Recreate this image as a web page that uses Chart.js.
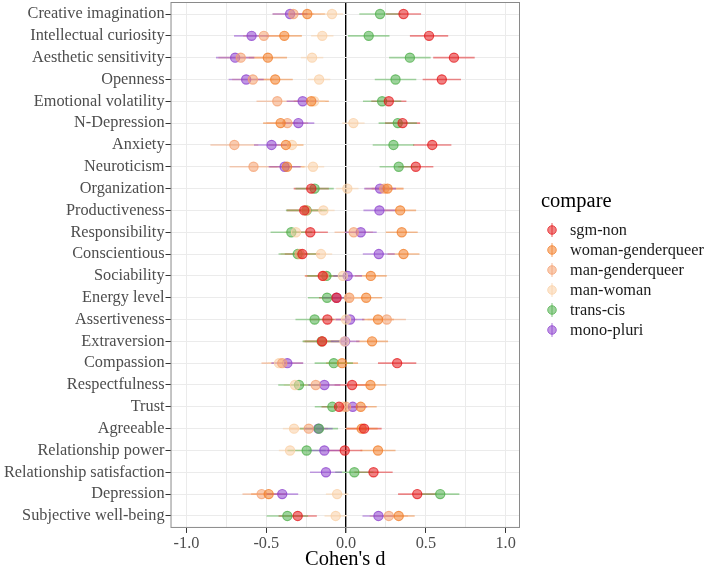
<!DOCTYPE html>
<html>
<head>
<meta charset="utf-8">
<script src="https://cdn.jsdelivr.net/npm/chart.js@4.4.1/dist/chart.umd.min.js"></script>
<style>
  html, body { margin: 0; padding: 0; background: #fff; }
  #wrap { position: relative; width: 709px; height: 567px; }
  #legend { position: absolute; left: 541px; top: 186px; font-family: 'Liberation Serif', serif; color: #1a1a1a; }
  #legend .title { font-size: 20.5px; line-height: 28px; color: #000; margin-bottom: 6px; }
  #legend .item { position: relative; height: 20px; line-height: 20px; font-size: 16.3px; padding-left: 29px; white-space: nowrap; }
  #legend svg { position: absolute; left: 3px; top: 0; }
</style>
</head>
<body>
<div id="wrap"><canvas id="c"></canvas><div id="legend"></div></div>
<script>
const categories = [
  "Creative imagination", "Intellectual curiosity", "Aesthetic sensitivity", "Openness",
  "Emotional volatility", "N-Depression", "Anxiety", "Neuroticism",
  "Organization", "Productiveness", "Responsibility", "Conscientious",
  "Sociability", "Energy level", "Assertiveness", "Extraversion",
  "Compassion", "Respectfulness", "Trust", "Agreeable",
  "Relationship power", "Relationship satisfaction", "Depression", "Subjective well-being"
];
const seriesNames = ["sgm-non", "woman-genderqueer", "man-genderqueer", "man-woman", "trans-cis", "mono-pluri"];
const seriesColors = ["228,26,28", "242,125,40", "244,160,112", "250,208,166", "77,175,74", "140,64,205"];

const sgmNon =          [0.36, 0.52, 0.676, 0.60, 0.268, 0.354, 0.54, 0.437, -0.218, -0.262, -0.224, -0.274, -0.146, -0.06, -0.117, -0.15, 0.32, 0.038, -0.044, 0.113, -0.008, 0.172, 0.446, -0.303];
const womanGenderqueer = [-0.243, -0.387, -0.49, -0.444, -0.218, -0.41, -0.377, -0.37, 0.26, 0.339, 0.349, 0.36, 0.155, 0.126, 0.20, 0.163, -0.025, 0.153, 0.092, 0.098, 0.20, null, -0.485, 0.33];
const manGenderqueer =  [-0.33, -0.515, -0.66, -0.584, -0.431, -0.368, -0.70, -0.58, 0.24, -0.25, 0.048, -0.29, -0.14, 0.02, 0.255, -0.15, -0.40, -0.19, 0.0, -0.234, null, null, -0.529, 0.268];
const manWoman =        [-0.088, -0.149, -0.213, -0.169, -0.2, 0.046, -0.339, -0.207, 0.008, -0.142, -0.314, -0.157, -0.02, 0.02, 0.0, -0.01, -0.42, -0.32, -0.02, -0.326, -0.351, null, -0.056, -0.065];
const transCis =        [0.213, 0.142, 0.40, 0.31, 0.226, 0.324, 0.297, 0.33, -0.197, -0.247, -0.343, -0.303, -0.123, -0.119, -0.197, -0.153, -0.077, -0.295, -0.086, -0.17, -0.247, 0.052, 0.59, -0.368];
const monoPluri =       [-0.351, -0.592, -0.695, -0.626, -0.272, -0.299, -0.467, -0.385, 0.213, 0.209, 0.092, 0.205, 0.01, -0.059, 0.025, -0.006, -0.368, -0.136, 0.042, -0.174, -0.136, -0.126, -0.40, 0.203];

// half-widths of the 95% intervals
const sgmNonCI =          [0.11, 0.12, 0.13, 0.12, 0.11, 0.11, 0.12, 0.11, 0.11, 0.11, 0.11, 0.11, 0.11, 0.11, 0.11, 0.11, 0.12, 0.11, 0.11, 0.11, 0.11, 0.12, 0.12, 0.12];
const womanGenderqueerCI = [0.11, 0.11, 0.12, 0.11, 0.11, 0.11, 0.11, 0.11, 0.10, 0.10, 0.10, 0.10, 0.10, 0.10, 0.10, 0.10, 0.10, 0.10, 0.10, 0.10, 0.11, null, 0.11, 0.10];
const manGenderqueerCI =  [0.13, 0.13, 0.14, 0.13, 0.13, 0.13, 0.15, 0.15, 0.12, 0.12, 0.12, 0.12, 0.12, 0.12, 0.12, 0.12, 0.13, 0.12, 0.12, 0.12, null, null, 0.12, 0.12];
const manWomanCI =        [0.07, 0.07, 0.07, 0.07, 0.07, 0.07, 0.07, 0.07, 0.07, 0.07, 0.07, 0.07, 0.07, 0.07, 0.07, 0.07, 0.07, 0.07, 0.07, 0.07, 0.07, null, 0.07, 0.07];
const transCisCI =        [0.13, 0.13, 0.13, 0.13, 0.12, 0.12, 0.13, 0.12, 0.12, 0.13, 0.13, 0.12, 0.12, 0.12, 0.12, 0.12, 0.12, 0.13, 0.11, 0.12, 0.12, 0.12, 0.12, 0.13];
const monoPluriCI =       [0.11, 0.11, 0.12, 0.11, 0.10, 0.10, 0.11, 0.10, 0.10, 0.10, 0.10, 0.10, 0.09, 0.09, 0.09, 0.09, 0.10, 0.10, 0.09, 0.09, 0.10, 0.10, 0.10, 0.10];

const xTicks = [-1.0, -0.75, -0.5, -0.25, 0, 0.25, 0.5, 0.75, 1.0];

const seriesValues = [sgmNon, womanGenderqueer, manGenderqueer, manWoman, transCis, monoPluri];
const seriesCI = [sgmNonCI, womanGenderqueerCI, manGenderqueerCI, manWomanCI, transCisCI, monoPluriCI];

const datasets = seriesNames.map((name, s) => {
  const pts = [];
  seriesValues[s].forEach((v, i) => {
    if (v !== null) pts.push({ x: v, y: i, ci: seriesCI[s][i] });
  });
  return {
    label: name,
    data: pts,
    backgroundColor: `rgba(${seriesColors[s]},0.55)`,
    borderColor: `rgba(${seriesColors[s]},0.75)`,
    borderWidth: 1.2,
    pointRadius: 4.6,
    pointHoverRadius: 4.6,
    rgb: seriesColors[s]
  };
});

// HTML legend built from series names and colours
const legendEl = document.getElementById('legend');
legendEl.innerHTML = '<div class="title">compare</div>' + seriesNames.map((n, s) =>
  `<div class="item"><svg width="16" height="20">` +
  `<line x1="8" y1="3" x2="8" y2="17" stroke="rgba(${seriesColors[s]},0.5)" stroke-width="1.4"/>` +
  `<circle cx="8" cy="10" r="4.3" fill="rgba(${seriesColors[s]},0.55)" stroke="rgba(${seriesColors[s]},0.75)" stroke-width="1"/></svg>${n}</div>`
).join('');

const errorBars = {
  id: 'errorBars',
  beforeDatasetsDraw(chart) {
    const ctx = chart.ctx;
    const xs = chart.scales.x, ys = chart.scales.y;
    ctx.save();
    chart.data.datasets.forEach(ds => {
      ctx.strokeStyle = `rgba(${ds.rgb},0.5)`;
      ctx.lineWidth = 1.6;
      ds.data.forEach(p => {
        const y = ys.getPixelForValue(p.y);
        ctx.beginPath();
        ctx.moveTo(xs.getPixelForValue(p.x - p.ci), y);
        ctx.lineTo(xs.getPixelForValue(p.x + p.ci), y);
        ctx.stroke();
      });
    });
    ctx.restore();
  },
  afterDraw(chart) {
    const a = chart.chartArea;
    const ctx = chart.ctx;
    ctx.save();
    ctx.strokeStyle = '#8a8a8a';
    ctx.lineWidth = 1;
    ctx.strokeRect(a.left + 0.5, a.top + 0.5, a.right - a.left - 1, a.bottom - a.top - 1);
    ctx.restore();
  }
};

const serif = "'Liberation Serif', 'DejaVu Serif', serif";
const isHalf = v => Math.abs(v * 2 - Math.round(v * 2)) < 1e-9;

new Chart(document.getElementById('c'), {
  type: 'scatter',
  data: { datasets },
  plugins: [errorBars],
  options: {
    responsive: true,
    maintainAspectRatio: false,
    animation: false,
    layout: { autoPadding: false, padding: { top: 2, right: 189, bottom: 0, left: 3 } },
    plugins: {
      tooltip: { enabled: false },
      legend: { display: false }
    },
    scales: {
      x: {
        type: 'linear',
        min: -1.1,
        max: 1.09,
        afterBuildTicks(scale) { scale.ticks = xTicks.map(v => ({ value: v })); },
        afterFit(scale) { scale.paddingLeft = 0; scale.paddingRight = 0; },
        ticks: {
          autoSkip: false,
          maxRotation: 0,
          color: '#4d4d4d',
          font: { family: serif, size: 16.3 },
          padding: 1,
          callback(v) { return isHalf(v) ? v.toFixed(1) : ''; }
        },
        grid: {
          color(ctx) { return ctx.tick && ctx.tick.value === 0 ? '#000' : '#ebebeb'; },
          lineWidth(ctx) { return ctx.tick && ctx.tick.value === 0 ? 1.4 : 1; },
          tickColor(ctx) { return (ctx.tick && isHalf(ctx.tick.value)) ? '#333' : 'rgba(0,0,0,0)'; },
          tickLength: 5
        },
        border: { display: false },
        title: {
          display: true,
          text: "Cohen's d",
          color: '#000',
          font: { family: serif, size: 20.5, lineHeight: 1 },
          padding: { top: -5, bottom: -3 }
        }
      },
      y: {
        type: 'linear',
        reverse: true,
        min: -0.55,
        max: 23.55,
        afterBuildTicks(scale) { scale.ticks = categories.map((_, i) => ({ value: i })); },
        afterFit(scale) { scale.paddingTop = 0; scale.paddingBottom = 0; },
        ticks: {
          autoSkip: false,
          color: '#4d4d4d',
          font: { family: serif, size: 16.3 },
          padding: 1,
          callback(v) { return categories[v]; }
        },
        grid: {
          color: '#ebebeb',
          tickColor: '#333',
          tickLength: 5
        },
        border: { display: false }
      }
    }
  }
});
</script>
</body>
</html>
